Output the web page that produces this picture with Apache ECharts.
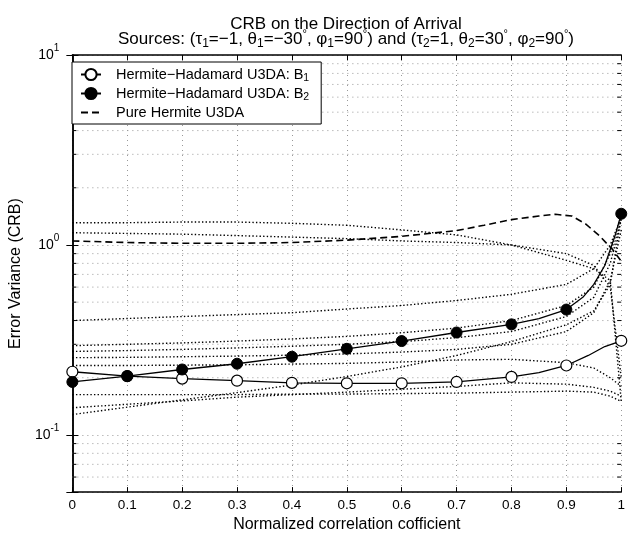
<!DOCTYPE html>
<html>
<head>
<meta charset="utf-8">
<script src="https://cdn.jsdelivr.net/npm/echarts@6/dist/echarts.min.js"></script>
<style>
  html, body { margin: 0; padding: 0; background: #fff; }
  #chart { width: 628px; height: 538px; }
</style>
</head>
<body>
<div id="chart"></div>
<script>
// main curves (markers at every 0.1, extra points only shape the end)
var b1X = [0, 0.1, 0.2, 0.3, 0.4, 0.5, 0.6, 0.7, 0.8, 0.85, 0.9, 0.94, 0.97, 1];
var b1Y = [0.215, 0.204, 0.198, 0.193, 0.188, 0.187, 0.187, 0.19, 0.202, 0.213, 0.232, 0.262, 0.292, 0.313];

var b2X = [0, 0.1, 0.2, 0.3, 0.4, 0.5, 0.6, 0.7, 0.8, 0.85, 0.9, 0.93, 0.95, 0.97, 0.99, 1];
var b2Y = [0.19, 0.204, 0.221, 0.237, 0.258, 0.284, 0.312, 0.346, 0.382, 0.41, 0.457, 0.53, 0.62, 0.78, 1.15, 1.46];

var pureX = [0, 0.1, 0.2, 0.3, 0.4, 0.5, 0.6, 0.7, 0.75, 0.8, 0.85, 0.88, 0.91, 0.935, 0.96, 0.985, 1];
var pureY = [1.05, 1.03, 1.02, 1.02, 1.03, 1.06, 1.11, 1.19, 1.27, 1.36, 1.42, 1.45, 1.42, 1.29, 1.12, 0.94, 0.82];

// dotted curves
var dotX = [0, 0.1, 0.2, 0.3, 0.4, 0.5, 0.6, 0.7, 0.8, 0.9, 0.95, 0.98, 1];
var dot1 = [1.31, 1.31, 1.32, 1.32, 1.30, 1.27, 1.20, 1.13, 1.00, 0.83, 0.75, 0.65, 0.15];
var dot2 = [1.16, 1.15, 1.14, 1.12, 1.10, 1.08, 1.05, 1.03, 1.00, 0.90, 0.78, 0.60, 0.20];
var dot3 = [0.40, 0.41, 0.42, 0.43, 0.44, 0.46, 0.48, 0.51, 0.55, 0.62, 0.75, 1.00, 1.40];
var dot4 = [0.295, 0.300, 0.305, 0.312, 0.320, 0.330, 0.345, 0.365, 0.40, 0.48, 0.60, 0.90, 1.42];
var dot5 = [0.275, 0.278, 0.282, 0.287, 0.293, 0.300, 0.310, 0.325, 0.35, 0.42, 0.53, 0.80, 1.35];
var dot6 = [0.255, 0.256, 0.258, 0.260, 0.263, 0.267, 0.273, 0.282, 0.30, 0.35, 0.44, 0.65, 1.20];
var dot7 = [0.232, 0.232, 0.233, 0.234, 0.236, 0.238, 0.242, 0.248, 0.25, 0.24, 0.225, 0.20, 0.18];
var dot8 = [0.128, 0.140, 0.153, 0.167, 0.183, 0.203, 0.228, 0.262, 0.31, 0.38, 0.45, 0.62, 1.40];
var dot9 = [0.139, 0.145, 0.151, 0.158, 0.163, 0.168, 0.174, 0.180, 0.188, 0.185, 0.178, 0.17, 0.16];
var dot10 = [0.163, 0.163, 0.163, 0.163, 0.164, 0.164, 0.165, 0.166, 0.168, 0.170, 0.168, 0.160, 0.15];
var dotted = [dot1, dot2, dot3, dot4, dot5, dot6, dot7, dot8, dot9, dot10];

// minor log grid lines
var minorY = [0.06, 0.07, 0.08, 0.09, 0.2, 0.3, 0.4, 0.5, 0.6, 0.7, 0.8, 0.9, 2, 3, 4, 5, 6, 7, 8, 9];

var legendText = {
    b1: '{t|Hermite\u2212Hadamard U3DA: B}{s|1}',
    b2: '{t|Hermite\u2212Hadamard U3DA: B}{s|2}',
    pure: '{t|Pure Hermite U3DA}'
};

var FONT = 'Liberation Sans';

function pairs(xs, ys, marks) {
    var res = [];
    for (var i = 0; i < xs.length; i++) {
        var onTick = Math.abs(xs[i] * 10 - Math.round(xs[i] * 10)) < 1e-9;
        if (marks && onTick) {
            res.push([xs[i], ys[i]]);
        } else {
            res.push({ value: [xs[i], ys[i]], symbol: 'none' });
        }
    }
    return res;
}

function renderMinor(params, api) {
    var v = api.value(1);
    var a = api.coord([0, v]);
    var b = api.coord([1, v]);
    return {
        type: 'group',
        children: [
            { type: 'line', shape: { x1: a[0], y1: a[1], x2: b[0], y2: b[1] },
              style: { stroke: '#999', lineWidth: 1, lineDash: [1, 4] } },
            { type: 'line', shape: { x1: a[0], y1: a[1], x2: a[0] + 4, y2: a[1] },
              style: { stroke: '#000', lineWidth: 1 } },
            { type: 'line', shape: { x1: b[0] - 4, y1: b[1], x2: b[0], y2: b[1] },
              style: { stroke: '#000', lineWidth: 1 } }
        ]
    };
}

var myChart = echarts.init(document.getElementById('chart'));

var series = [];
series.push({
    type: 'custom',
    silent: true,
    renderItem: renderMinor,
    data: minorY.map(function (v) { return [0, v]; }),
    z: 1
});
for (var k = 0; k < dotted.length; k++) {
    series.push({
        name: 'd' + (k + 1),
        type: 'line',
        data: pairs(dotX, dotted[k], false),
        symbol: 'none',
        silent: true,
        lineStyle: { color: '#000', width: 1.4, type: [1.4, 2.2] },
        z: 2
    });
}
series.push({
    name: 'pure',
    type: 'line',
    data: pairs(pureX, pureY, false),
    showSymbol: false,
    symbol: 'circle',
    itemStyle: { color: 'rgba(0,0,0,0)', borderWidth: 0 },
    lineStyle: { color: '#000', width: 1.6, type: [7, 4] },
    z: 3
});
series.push({
    name: 'b1',
    type: 'line',
    data: pairs(b1X, b1Y, true),
    symbol: 'circle',
    symbolSize: 11,
    itemStyle: { color: '#fff', borderColor: '#000', borderWidth: 1.2 },
    lineStyle: { color: '#000', width: 1.3 },
    z: 4
});
series.push({
    name: 'b2',
    type: 'line',
    data: pairs(b2X, b2Y, true),
    symbol: 'circle',
    symbolSize: 11,
    itemStyle: { color: '#000', borderColor: '#000', borderWidth: 1 },
    lineStyle: { color: '#000', width: 1.3 },
    z: 4
});

var option = {
    backgroundColor: '#fff',
    animation: false,
    textStyle: { fontFamily: FONT, color: '#000' },
    title: [
        {
            text: 'CRB on the Direction of Arrival',
            left: 346,
            top: 15,
            textAlign: 'center',
            padding: 0,
            textStyle: { fontFamily: FONT, fontSize: 17, fontWeight: 'normal', color: '#000', lineHeight: 18 }
        },
        {
            text: 'Sources: (\u03c4{s|1}=\u22121, \u03b8{s|1}=\u221230{d|\u00b0}, \u03c6{s|1}=90{d|\u00b0}) and (\u03c4{s|2}=1, \u03b8{s|2}=30{d|\u00b0}, \u03c6{s|2}=90{d|\u00b0})',
            left: 346,
            top: 28,
            textAlign: 'center',
            padding: 0,
            textStyle: {
                fontFamily: FONT, fontSize: 17, fontWeight: 'normal', color: '#000', lineHeight: 22,
                rich: {
                    s: { fontFamily: FONT, fontSize: 12, color: '#000', verticalAlign: 'bottom' },
                    d: { fontFamily: FONT, fontSize: 11, color: '#000', verticalAlign: 'top' }
                }
            }
        }
    ],
    legend: {
        data: ['b1', 'b2', 'pure'],
        orient: 'vertical',
        left: 72,
        top: 62,
        padding: [5, 12, 4, 8],
        itemWidth: 20,
        itemHeight: 14,
        itemGap: 2.5,
        backgroundColor: '#fff',
        borderColor: '#000',
        borderWidth: 1,
        borderRadius: 0,
        formatter: function (name) { return legendText[name]; },
        textStyle: {
            fontFamily: FONT,
            color: '#000',
            padding: [0, 0, 0, 10],
            rich: {
                t: { fontFamily: FONT, fontSize: 14.5, color: '#000', lineHeight: 18 },
                s: { fontFamily: FONT, fontSize: 10.5, color: '#000', verticalAlign: 'bottom' }
            }
        }
    },
    grid: { left: 67, right: 3, top: 55, bottom: 39, containLabel: false },
    xAxis: [
        {
            type: 'value',
            min: 0,
            max: 1,
            interval: 0.1,
            name: 'Normalized correlation cofficient',
            nameLocation: 'middle',
            nameGap: 22,
            nameTextStyle: { fontFamily: FONT, fontSize: 16, color: '#000' },
            axisLine: { show: true, lineStyle: { color: '#000', width: 1.5 } },
            axisTick: { show: true, inside: true, length: 5, lineStyle: { color: '#000' } },
            axisLabel: {
                margin: 6,
                fontFamily: FONT,
                fontSize: 13.5,
                color: '#000',
                formatter: function (v) {
                    if (Math.abs(v) < 1e-9) return '0';
                    if (Math.abs(v - 1) < 1e-9) return '1';
                    return v.toFixed(1);
                }
            },
            splitLine: { show: true, lineStyle: { color: '#999', width: 1, type: [1, 4] } }
        },
        {
            type: 'value',
            position: 'top',
            min: 0,
            max: 1,
            interval: 0.1,
            axisLine: { show: true, lineStyle: { color: '#000', width: 1.5 } },
            axisTick: { show: true, inside: true, length: 5, lineStyle: { color: '#000' } },
            axisLabel: { show: false },
            splitLine: { show: false }
        }
    ],
    yAxis: [
        {
            type: 'log',
            logBase: 10,
            min: 0.05,
            max: 10,
            name: 'Error Variance (CRB)',
            nameLocation: 'middle',
            nameGap: 42,
            nameTextStyle: { fontFamily: FONT, fontSize: 16, color: '#000' },
            axisLine: { show: true, lineStyle: { color: '#000', width: 1.5 } },
            axisTick: { show: true, inside: true, length: 6, lineStyle: { color: '#000' } },
            axisLabel: {
                margin: 13,
                fontFamily: FONT,
                color: '#000',
                formatter: function (v) {
                    var e = Math.log(v) / Math.LN10;
                    var k = Math.round(e);
                    if (Math.abs(e - k) > 1e-6) return '';
                    return '{b|10}{e|' + k + '}';
                },
                rich: {
                    b: { fontFamily: FONT, fontSize: 14, color: '#000', lineHeight: 24 },
                    e: { fontFamily: FONT, fontSize: 10, color: '#000', verticalAlign: 'top' }
                }
            },
            splitLine: { show: true, lineStyle: { color: '#999', width: 1, type: [1, 4] } }
        },
        {
            type: 'log',
            logBase: 10,
            min: 0.05,
            max: 10,
            position: 'right',
            axisLine: { show: true, lineStyle: { color: '#000', width: 1.5 } },
            axisTick: { show: true, inside: true, length: 6, lineStyle: { color: '#000' } },
            axisLabel: { show: false },
            splitLine: { show: false }
        }
    ],
    series: series
};

myChart.setOption(option);
window.addEventListener('resize', function () {
    myChart.resize();
});
</script>
</body>
</html>
